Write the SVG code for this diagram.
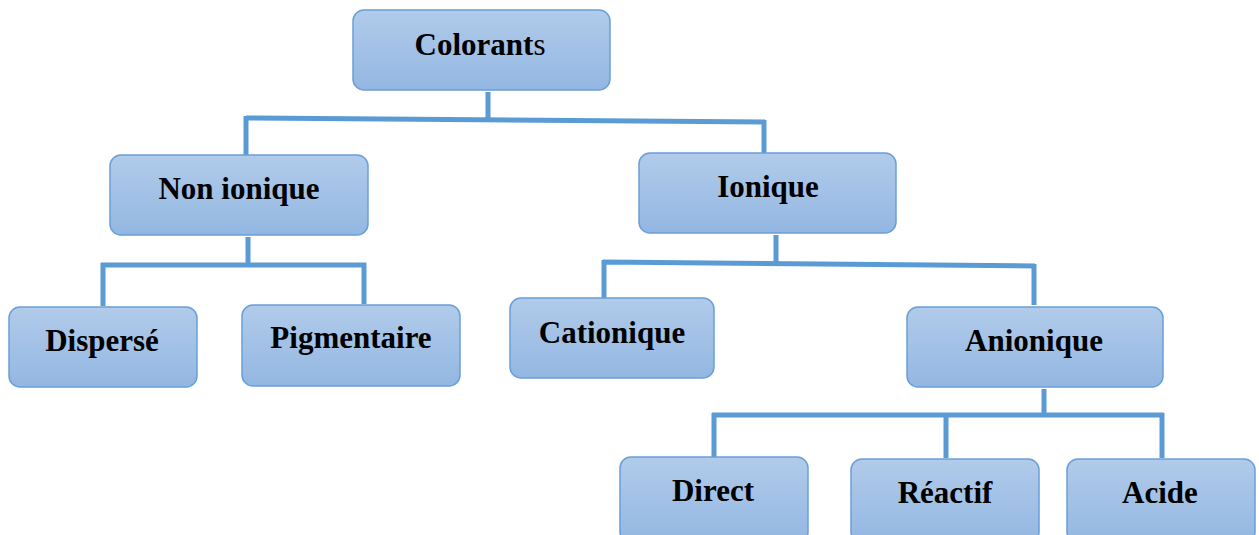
<svg xmlns="http://www.w3.org/2000/svg" width="1259" height="535" viewBox="0 0 1259 535">
<defs>
<linearGradient id="g" x1="0" y1="0" x2="0" y2="1">
<stop offset="0" stop-color="#b1cbea"/>
<stop offset="1" stop-color="#93b7e2"/>
</linearGradient>
<style>
.box{fill:url(#g);stroke:#6a9fd8;stroke-width:1.5}
.t{font-family:"Liberation Serif","Times New Roman",serif;font-weight:bold;font-size:31px;fill:#000;text-anchor:middle}
.c{fill:none;stroke:#5b9bd5;stroke-width:5}
</style>
</defs>
<rect width="1259" height="535" fill="#fff"/>
<g id="connectors">
<path class="c" d="M488 92V119M246 118L765 122M246 116V155M764 120V153"/>
<path class="c" d="M248 237V265M101 265H366M103 263V306M364 263V304"/>
<path class="c" d="M776 235V263M603 262L1035 266M604 260V298M1034 264V305"/>
<path class="c" d="M1044 389V415M712 415H1164M714 413V457M946 413V458M1162 413V458"/>
</g>
<g id="colorants"><rect class="box" x="353" y="10" width="257" height="80" rx="11"/><text class="t" x="480" y="55">Colorant<tspan font-weight="normal">s</tspan></text></g>
<g id="non-ionique"><rect class="box" x="110" y="155" width="258" height="80" rx="11"/><text class="t" x="239" y="199">Non ionique</text></g>
<g id="ionique"><rect class="box" x="639" y="153" width="257" height="80" rx="11"/><text class="t" x="768" y="197">Ionique</text></g>
<g id="disperse"><rect class="box" x="9" y="307" width="188" height="80" rx="11"/><text class="t" x="102" y="351">Dispersé</text></g>
<g id="pigmentaire"><rect class="box" x="242" y="305" width="218" height="81" rx="11"/><text class="t" x="351" y="348">Pigmentaire</text></g>
<g id="cationique"><rect class="box" x="510" y="298" width="204" height="80" rx="11"/><text class="t" x="612" y="343">Cationique</text></g>
<g id="anionique"><rect class="box" x="907" y="307" width="256" height="80" rx="11"/><text class="t" x="1034" y="351">Anionique</text></g>
<g id="direct"><rect class="box" x="620" y="457" width="188" height="86" rx="11"/><text class="t" x="713" y="501">Direct</text></g>
<g id="reactif"><rect class="box" x="851" y="459" width="188" height="84" rx="11"/><text class="t" x="945" y="503">Réactif</text></g>
<g id="acide"><rect class="box" x="1067" y="459" width="188" height="84" rx="11"/><text class="t" x="1160" y="503">Acide</text></g>
</svg>
